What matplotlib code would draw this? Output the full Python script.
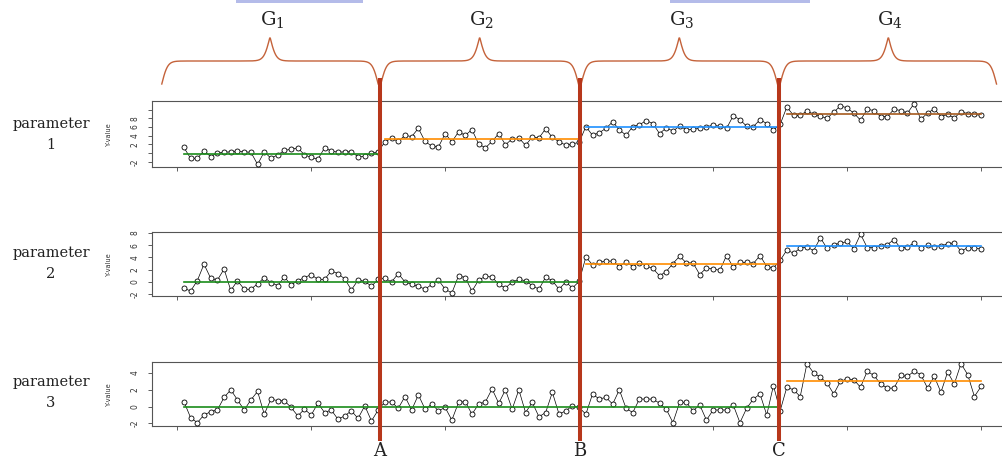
import numpy as np
import matplotlib.pyplot as plt
from matplotlib.patches import Rectangle

plt.rcParams['mathtext.fontset'] = 'dejavuserif'

W, H = 1003, 461

# observed values, index 1..120 (four groups of 30)
p1 = [1.3, -1.2, -1.2, 0.5, -0.8, 0.0, 0.2, 0.3, 0.5, 0.3, 0.2, -2.6, 0.3, -1.2, -0.4,
      0.6, 0.9, 1.2, -0.4, -1.0, -1.4, 1.2, 0.5, 0.2, 0.3, 0.3, -0.85, -0.75, 0.0, 0.3,
      2.6, 3.4, 2.7, 4.1, 3.8, 5.7, 2.7, 1.6, 1.4, 4.5, 2.6, 4.9, 4.1, 5.4, 2.1,
      1.2, 2.7, 4.5, 1.9, 3.3, 3.5, 1.8, 3.7, 3.5, 5.6, 3.6, 2.6, 1.85, 2.1, 2.5,
      6.1, 4.1, 4.7, 5.7, 7.2, 5.4, 4.1, 6.1, 6.5, 7.5, 6.8, 4.5, 5.8, 5.1, 6.2,
      5.4, 5.5, 5.7, 6.1, 6.4, 6.2, 5.7, 8.6, 7.7, 6.2, 6.1, 7.7, 6.8, 5.3, 6.6,
      10.6, 8.7, 8.7, 9.7, 9.0, 8.5, 8.0, 9.4, 10.9, 10.4, 9.2, 7.6, 10.1, 9.8, 8.4,
      8.4, 10.1, 9.8, 9.2, 11.4, 7.8, 9.2, 10.2, 8.4, 8.9, 8.1, 9.5, 9.1, 8.9, 8.7]
p2 = [-1.0, -1.5, 0.2, 2.9, 0.6, 0.3, 2.1, -1.4, 0.2, -1.2, -1.2, -0.3, 0.7, -0.1, -0.6,
      0.8, -0.5, 0.2, 0.7, 1.2, 0.4, 0.4, 1.8, 1.35, 0.5, -1.3, 0.3, 0.1, -0.7, 0.4,
      0.6, 0.0, 1.35, 0.0, -0.4, -0.7, -1.2, -0.4, 0.3, -1.2, -1.8, 1.0, 0.7, -1.5, 0.3,
      0.9, 0.8, -0.4, -1.0, 0.0, 0.4, 0.2, -0.6, -1.2, 0.8, 0.2, -1.2, 0.0, -1.0, 0.1,
      4.05, 2.8, 3.2, 3.4, 3.4, 2.5, 3.3, 2.5, 3.1, 2.6, 2.2, 1.0, 1.7, 3.0, 4.2,
      3.1, 3.1, 1.2, 2.3, 2.1, 1.9, 4.3, 2.4, 3.2, 3.2, 3.0, 4.3, 2.5, 2.3, 3.5,
      5.2, 4.7, 5.5, 5.7, 5.1, 7.2, 5.5, 6.1, 6.3, 6.6, 5.4, 7.8, 5.6, 5.6, 5.9,
      6.1, 6.9, 5.5, 5.7, 6.4, 5.5, 6.0, 5.7, 5.9, 6.2, 6.4, 5.0, 5.6, 5.5, 5.4]
p3 = [0.6, -1.3, -1.9, -1.0, -0.6, -0.4, 1.1, 2.0, 0.8, -0.4, 0.8, 1.8, -0.9, 0.9, 0.7,
      0.7, -0.1, -1.1, -0.3, -1.0, 0.4, -0.7, -0.4, -1.5, -1.1, -0.5, -1.4, 0.1, -1.7, -0.4,
      0.55, 0.55, -0.2, 1.2, -0.4, 1.4, -0.3, 0.3, -0.5, -0.1, -1.6, 0.5, 0.6, -0.9, 0.3,
      0.55, 2.1, 0.4, 2.0, -0.3, 2.0, -0.7, 0.5, -1.2, -0.7, 1.7, -0.9, -0.5, 0.1, -0.1,
      -0.9, 1.5, 0.9, 1.1, 0.3, 2.0, -0.2, -0.7, 0.9, 0.9, 0.9, 0.4, -0.3, -1.9, 0.5,
      0.5, -0.5, 0.2, -1.6, -0.4, -0.4, -0.4, 0.2, -1.9, -0.2, 0.9, 1.5, -1.0, 2.5, -0.5,
      2.3, 2.0, 1.2, 5.1, 4.0, 3.5, 2.8, 1.5, 3.0, 3.3, 3.2, 2.3, 4.2, 3.7, 2.7,
      2.2, 2.2, 3.7, 3.6, 4.2, 3.8, 2.2, 3.6, 1.7, 4.1, 2.7, 5.1, 3.8, 1.2, 2.4]

# fitted levels per segment: (first, last, level, colour)
seg1 = [(1, 30, -0.2, '#1a8c1a'), (31, 60, 3.2, '#ff8c00'),
        (61, 90, 6.1, '#1e90ff'), (91, 120, 9.1, '#a65a1e')]
seg2 = [(1, 60, 0.0, '#1a8c1a'), (61, 90, 2.9, '#ff8c00'), (91, 120, 5.8, '#1e90ff')]
seg3 = [(1, 90, 0.0, '#1a8c1a'), (91, 120, 3.0, '#ff8c00')]

change_pts = [30.2, 60.1, 89.8]
change_lbl = ['A', 'B', 'C']
groups = ['1', '2', '3', '4']
brace_edges = [-2.5, 30.2, 60.1, 89.8, 122.5]

yticks = [[-2, 0, 2, 4, 6, 8, 10], [-2, 0, 2, 4, 6, 8], [-2, 0, 2, 4]]
ylabs = [['-2', '', '2', '4', '6', '8', ''], ['-2', '0', '2', '4', '6', '8'], ['-2', '0', '2', '4']]
ylims = [(-3.2, 12.0), (-2.3, 8.15), (-2.3, 5.3)]
boxes = [(101, 167), (232, 296), (362, 426)]  # top/bottom in pixels
par_y = [(124, 145), (253, 274), (382, 403)]

xlim = (-3.76, 124.76)
L, R = 152, 1013


def rect(top, bot, left=L, right=R):
    return [left / W, 1 - bot / H, (right - left) / W, (bot - top) / H]


fig = plt.figure(figsize=(W / 100, H / 100), dpi=100)
x = np.arange(1, 121)

for k, (vals, segs) in enumerate(zip([p1, p2, p3], [seg1, seg2, seg3])):
    top, bot = boxes[k]
    ax = fig.add_axes(rect(top, bot))
    ax.plot(x, vals, '-', color='black', lw=0.5, zorder=2)
    ax.plot(x, vals, 'o', mfc='white', mec='black', ms=3.6, mew=0.6, zorder=3)
    for a, b, lev, c in segs:
        ax.plot([a, b], [lev, lev], color=c, lw=1.2, zorder=4)
    ax.set_xlim(xlim)
    ax.set_ylim(ylims[k])
    ax.set_xticks(range(0, 121, 20))
    ax.set_xticklabels([])
    ax.set_yticks(yticks[k])
    ax.set_yticklabels(ylabs[k], rotation=90, va='center', fontsize=5.5, color='#333333')
    ax.tick_params(length=3, width=0.6, color='#444444', pad=6)
    for s in ax.spines.values():
        s.set_color('#555555')
        s.set_linewidth(0.8)
    fig.text(109 / W, 1 - (top + bot) / 2 / H, 'Y-value', rotation=90, ha='center',
             va='center', fontsize=4.8, color='#333333')
    fig.text(51 / W, 1 - par_y[k][0] / H, 'parameter', ha='center', va='center',
             family='DejaVu Serif', fontsize=10.5, color='#222222')
    fig.text(51 / W, 1 - par_y[k][1] / H, str(k + 1), ha='center', va='center',
             family='DejaVu Serif', fontsize=10.5, color='#222222')

# overlay in pixel-y coordinates for braces, change lines and labels
ov = fig.add_axes([L / W, 0, (R - L) / W, 1], zorder=10)
ov.set_xlim(xlim)
ov.set_ylim(H, 0)
ov.axis('off')
ov.patch.set_alpha(0)

for g, (e0, e1) in enumerate(zip(brace_edges[:-1], brace_edges[1:])):
    a, b = e0 + 0.2, e1 - 0.2
    xs = np.linspace(a, b, 400)
    half = xs[:200]
    beta = 2.3
    yh = 1 / (1 + np.exp(-beta * (half - half[0]))) + 1 / (1 + np.exp(-beta * (half - half[-1])))
    yb = np.concatenate([yh, yh[::-1]])
    ov.plot(xs, 61 - (yb - 1) * 46, color='#c4623a', lw=1.0)
    ov.text((a + b) / 2 + 0.3, 20, r'$\mathrm{G}_{%s}$' % groups[g], ha='center', va='center',
            fontsize=14, color='#222222')

ov.vlines(change_pts, 78, 441, color='#b7371b', lw=2.9)
for cp, lb in zip(change_pts, change_lbl):
    ov.text(cp, 451, lb, ha='center', va='center', family='DejaVu Serif',
            fontsize=13, color='#222222')

# faint strip at the top edge of the source picture
fig.patches.append(Rectangle((236 / W, 1 - 3 / H), 127 / W, 3 / H, transform=fig.transFigure,
                             color='#b4bbe9', lw=0))
fig.patches.append(Rectangle((670 / W, 1 - 3 / H), 140 / W, 3 / H, transform=fig.transFigure,
                             color='#b4bbe9', lw=0))

fig.savefig('out.png', dpi=100)
